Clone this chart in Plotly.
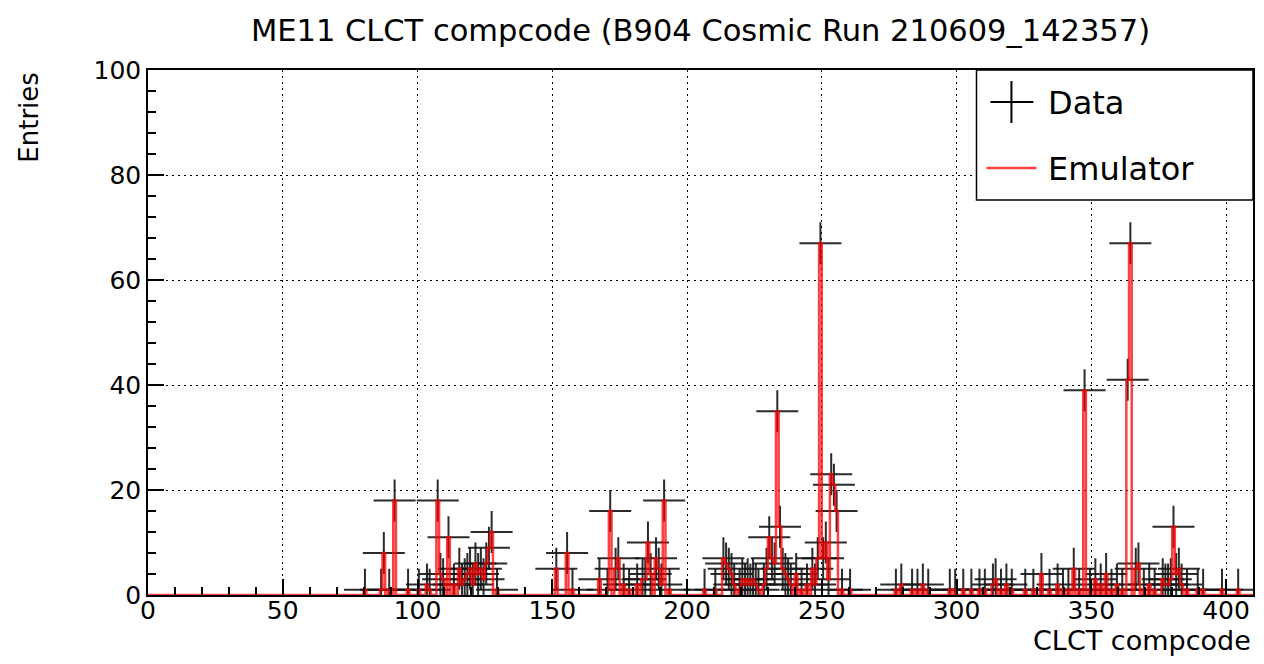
import numpy as np
import plotly.graph_objects as go

# ---------------- text ----------------
title_text = "ME11 CLCT compcode (B904 Cosmic Run 210609_142357)"
x_title = "CLCT compcode"
y_title = "Entries"
legend_labels = ["Data", "Emulator"]

# ---------------- axes ----------------
x_range = [0, 410]
y_range = [0, 100]
x_ticks = [0, 50, 100, 150, 200, 250, 300, 350, 400]
y_ticks = [0, 20, 40, 60, 80, 100]

# ---------------- data (bin low edge, entries) ----------------
data_bins = [80, 86, 87, 89, 91, 96, 100, 103, 104, 107, 108, 109, 111, 113, 115, 116, 117, 118,
             119, 120, 121, 122, 123, 124, 125, 126, 127, 129,
             151, 155, 157, 167, 170, 171, 173, 174, 176, 178, 181, 183, 184, 185, 186, 188,
             189, 190, 191, 193,
             206, 210, 213, 214, 215, 216, 217, 219, 220, 221, 222, 223, 224, 225, 226, 228,
             229, 230, 231, 232, 233, 234, 235, 236, 237, 238, 240, 242, 244, 246, 247, 248,
             249, 250, 251, 252, 253, 254, 255, 257, 260,
             277, 279, 283, 285, 287, 289, 297, 299, 302, 305, 308, 310, 313, 314, 316, 318,
             320, 325, 328, 331, 334, 337, 339, 341, 343, 345, 347, 349, 351, 353, 355, 357,
             359, 361, 363, 364, 366, 367, 369, 371, 373, 376, 377, 378, 379, 380, 381, 382,
             383, 385, 389, 391, 398, 404]
data_entries = [1, 1, 8, 1, 18, 1, 1, 2, 1, 18, 4, 3, 11, 2, 5, 2, 3, 4,
                5, 2, 6, 4, 5, 3, 6, 9, 12, 1,
                5, 8, 1, 3, 1, 16, 5, 7, 2, 1, 2, 3, 3, 10, 4, 7,
                5, 2, 18, 1,
                1, 1, 7, 6, 5, 4, 2, 1, 3, 2, 3, 2, 3, 2, 1, 2,
                5, 11, 7, 6, 35, 13, 5, 4, 3, 2, 4, 1, 2, 5, 2, 7,
                67, 7, 10, 3, 23, 21, 16, 1, 1,
                1, 2, 1, 1, 2, 1, 1, 1, 1, 1, 1, 1, 2, 3, 1, 2,
                1, 1, 1, 4, 1, 2, 1, 1, 5, 1, 39, 1, 3, 2, 4, 1,
                2, 1, 41, 67, 5, 6, 1, 2, 1, 3, 2, 2, 3, 13, 4, 5,
                2, 1, 1, 1, 1, 1]
emulator_entries = list(data_entries)

# ---------------- build traces ----------------
n_bins = x_range[1] - x_range[0]
emu_hist = np.zeros(n_bins)
emu_hist[np.array(data_bins)] = emulator_entries
edges = np.arange(x_range[0], x_range[1] + 1)
emu_step_y = np.append(emu_hist, emu_hist[-1])

FONT = "DejaVu Sans"

fig = go.Figure()
fig.add_trace(go.Scatter(
    x=np.array(data_bins) + 0.5, y=data_entries, mode="markers", name=legend_labels[0],
    marker=dict(symbol="cross-thin", size=30, color="black",
                line=dict(width=2, color="rgba(20,20,20,0.9)")),
    cliponaxis=True, showlegend=False))
fig.add_trace(go.Scatter(
    x=edges, y=emu_step_y, mode="lines", name=legend_labels[1],
    line=dict(shape="hv", color="rgba(255,0,0,0.75)", width=2.5),
    cliponaxis=True, showlegend=False))

# ---------------- legend (drawn) ----------------
L, R, T, B = 148, 1255, 70, 595
W, H = R - L, B - T
px = lambda v: (v - L) / W
py = lambda v: (B - v) / H

shapes = [
    dict(type="rect", xref="paper", yref="paper", x0=px(978), x1=1.0, y0=py(200), y1=1.0,
         line=dict(color="black", width=1.5), fillcolor="white", layer="above"),
    dict(type="line", xref="paper", yref="paper", x0=px(992), x1=px(1035), y0=py(102), y1=py(102),
         line=dict(color="black", width=2), layer="above"),
    dict(type="line", xref="paper", yref="paper", x0=px(1013), x1=px(1013), y0=py(81), y1=py(123),
         line=dict(color="black", width=2), layer="above"),
    dict(type="line", xref="paper", yref="paper", x0=px(988), x1=px(1038), y0=py(168), y1=py(168),
         line=dict(color="rgba(255,0,0,0.75)", width=2.5), layer="above"),
]
annotations = [
    dict(text=legend_labels[0], xref="paper", yref="paper", x=px(1048), y=py(103),
         xanchor="left", yanchor="middle", showarrow=False, font=dict(family=FONT, size=32, color="black")),
    dict(text=legend_labels[1], xref="paper", yref="paper", x=px(1048), y=py(169),
         xanchor="left", yanchor="middle", showarrow=False, font=dict(family=FONT, size=32, color="black")),
    dict(text=y_title, xref="paper", yref="paper", x=px(28), y=1.0, textangle=-90,
         xanchor="center", yanchor="top", showarrow=False, font=dict(family=FONT, size=26, color="black")),
    dict(text=x_title, xref="paper", yref="paper", x=1.0, y=py(640),
         xanchor="right", yanchor="middle", showarrow=False, font=dict(family=FONT, size=27, color="black")),
]

axis_common = dict(
    showline=True, linecolor="black", linewidth=1.5, mirror=True,
    ticks="inside", ticklen=16, tickwidth=1.5, tickcolor="black",
    showgrid=True, gridcolor="black", gridwidth=1, griddash="2px,4px",
    zeroline=False, tickfont=dict(family=FONT, size=25, color="black"),
)

fig.update_layout(
    width=1264, height=664,
    margin=dict(l=L, r=1264 - R, t=T, b=664 - B),
    paper_bgcolor="white", plot_bgcolor="white",
    title=dict(text=title_text, x=0.5, xref="paper", xanchor="center",
               y=1 - 30 / 664, yref="container", yanchor="middle",
               font=dict(family=FONT, size=30.5, color="black")),
    xaxis=dict(range=x_range, tickmode="array", tickvals=x_ticks, ticklabelstandoff=-8, **axis_common,
               minor=dict(dtick=10, ticklen=8, ticks="inside", tickcolor="black", showgrid=False)),
    yaxis=dict(range=y_range, tickmode="array", tickvals=y_ticks, **axis_common,
               minor=dict(dtick=4, ticklen=8, ticks="inside", tickcolor="black", showgrid=False)),
    shapes=shapes, annotations=annotations, showlegend=False,
)

fig.write_html("out.html", config={"displayModeBar": False},
               post_script="document.body.style.margin='0';document.body.style.padding='0';")
